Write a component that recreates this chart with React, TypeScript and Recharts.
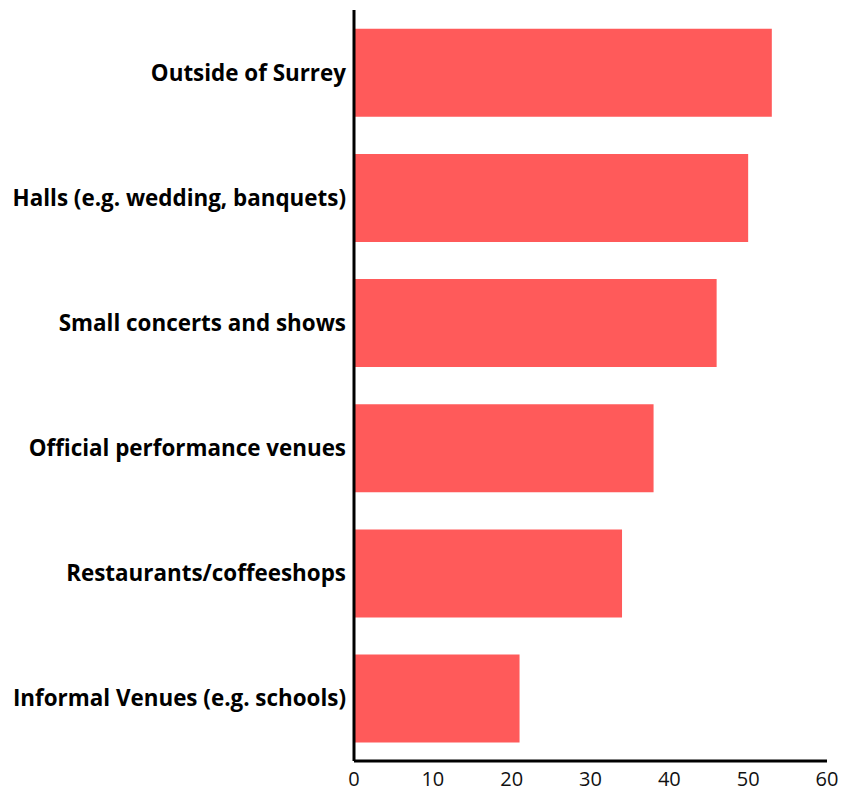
import React from "react";
import { BarChart, Bar, XAxis, YAxis } from "recharts";

const categories = [
  "Outside of Surrey",
  "Halls (e.g. wedding, banquets)",
  "Small concerts and shows",
  "Official performance venues",
  "Restaurants/coffeeshops",
  "Informal Venues (e.g. schools)",
];
const values = [53, 50, 46, 38, 34, 21];
const xTicks = [0, 10, 20, 30, 40, 50, 60];

const data = categories.map((name, i) => ({ name, value: values[i] }));

const FONT = "'Open Sans', 'Noto Sans', sans-serif";

export default function App() {
  return (
    <div style={{ position: "absolute", left: 0, top: 0 }}>
      <BarChart
        width={844}
        height={792}
        data={data}
        layout="vertical"
        margin={{ top: 10, right: 17, bottom: 0, left: 0 }}
        barCategoryGap="15%"
      >
        <XAxis
          type="number"
          domain={[0, 60]}
          ticks={xTicks}
          height={31}
          tickLine={false}
          axisLine={{ stroke: "#000", strokeWidth: 3 }}
          tickMargin={5}
          tick={{ fill: "#111", fontSize: 20, fontFamily: FONT }}
          interval={0}
        />
        <YAxis
          type="category"
          dataKey="name"
          width={354}
          tickLine={false}
          axisLine={{ stroke: "#000", strokeWidth: 3 }}
          tick={{ fill: "#000", fontSize: 22.4, fontWeight: 700, fontFamily: FONT }}
          interval={0}
        />
        <Bar dataKey="value" fill="#FF5A5A" isAnimationActive={false} />
      </BarChart>
    </div>
  );
}
